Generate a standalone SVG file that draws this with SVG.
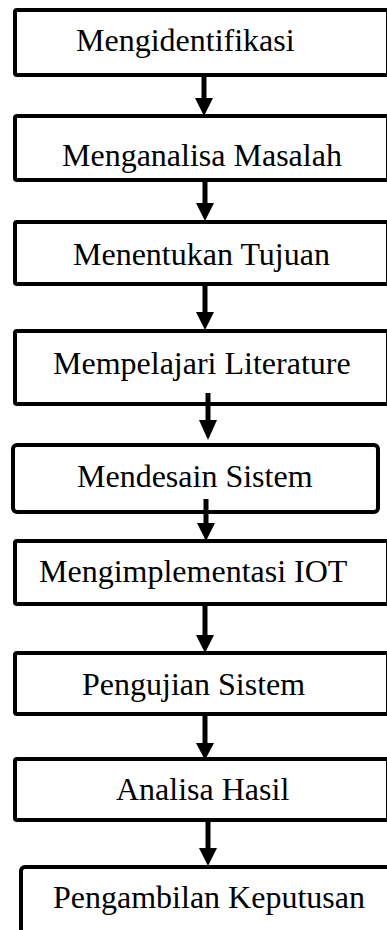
<svg xmlns="http://www.w3.org/2000/svg" width="387" height="930" viewBox="0 0 387 930">
  <style>
    .box { fill: #ffffff; stroke: #000000; stroke-width: 4; stroke-linejoin: round; }
    .label { font-family: "Liberation Serif", "Times New Roman", serif; font-size: 32px; fill: #000000; }
    .shaft { stroke: #000000; stroke-width: 5; fill: none; }
    .head { fill: #000000; stroke: none; }
  </style>
  <rect width="387" height="930" fill="#ffffff"/>

  <g id="node-mengidentifikasi">
    <rect class="box" x="15" y="10" width="373" height="65" rx="2"/>
    <text class="label" x="76" y="51">Mengidentifikasi</text>
  </g>
  <g id="node-menganalisa-masalah">
    <rect class="box" x="15" y="116" width="373" height="64" rx="2"/>
    <text class="label" x="62" y="166">Menganalisa Masalah</text>
  </g>
  <g id="node-menentukan-tujuan">
    <rect class="box" x="15" y="222" width="373" height="62" rx="2"/>
    <text class="label" x="73" y="265">Menentukan Tujuan</text>
  </g>
  <g id="node-mempelajari-literature">
    <rect class="box" x="15" y="331" width="373" height="73" rx="2"/>
    <text class="label" x="53" y="374">Mempelajari Literature</text>
  </g>
  <g id="node-mendesain-sistem">
    <rect class="box" x="13" y="445" width="365" height="67" rx="4"/>
    <text class="label" x="77" y="487">Mendesain Sistem</text>
  </g>
  <g id="node-mengimplementasi-iot">
    <rect class="box" x="15" y="541" width="373" height="63" rx="2"/>
    <text class="label" x="39" y="582">Mengimplementasi IOT</text>
  </g>
  <g id="node-pengujian-sistem">
    <rect class="box" x="15" y="653" width="373" height="61" rx="2"/>
    <text class="label" x="82" y="695">Pengujian Sistem</text>
  </g>
  <g id="node-analisa-hasil">
    <rect class="box" x="15" y="759" width="373" height="61" rx="2"/>
    <text class="label" x="116" y="800">Analisa Hasil</text>
  </g>
  <g id="node-pengambilan-keputusan">
    <rect class="box" x="21" y="867" width="376" height="80" rx="4"/>
    <text class="label" x="53" y="908">Pengambilan Keputusan</text>
  </g>

  <g id="connectors">
    <line class="shaft" x1="204" y1="75" x2="204" y2="100"/>
    <polygon class="head" points="195,98 213,98 204,116"/>

    <line class="shaft" x1="205" y1="180" x2="205" y2="205"/>
    <polygon class="head" points="196,203 214,203 205,221"/>

    <line class="shaft" x1="205" y1="284" x2="205" y2="314"/>
    <polygon class="head" points="196,312 214,312 205,330"/>

    <line class="shaft" x1="208" y1="393" x2="208" y2="422"/>
    <polygon class="head" points="199,420 217,420 208,440"/>

    <line class="shaft" x1="206" y1="499" x2="206" y2="525"/>
    <polygon class="head" points="197,523 215,523 206,541"/>

    <line class="shaft" x1="205" y1="604" x2="205" y2="637"/>
    <polygon class="head" points="196,635 214,635 205,653"/>

    <line class="shaft" x1="205" y1="714" x2="205" y2="745"/>
    <polygon class="head" points="196,743 214,743 205,760"/>

    <line class="shaft" x1="208" y1="820" x2="208" y2="850"/>
    <polygon class="head" points="199,848 217,848 208,866"/>
  </g>
</svg>
